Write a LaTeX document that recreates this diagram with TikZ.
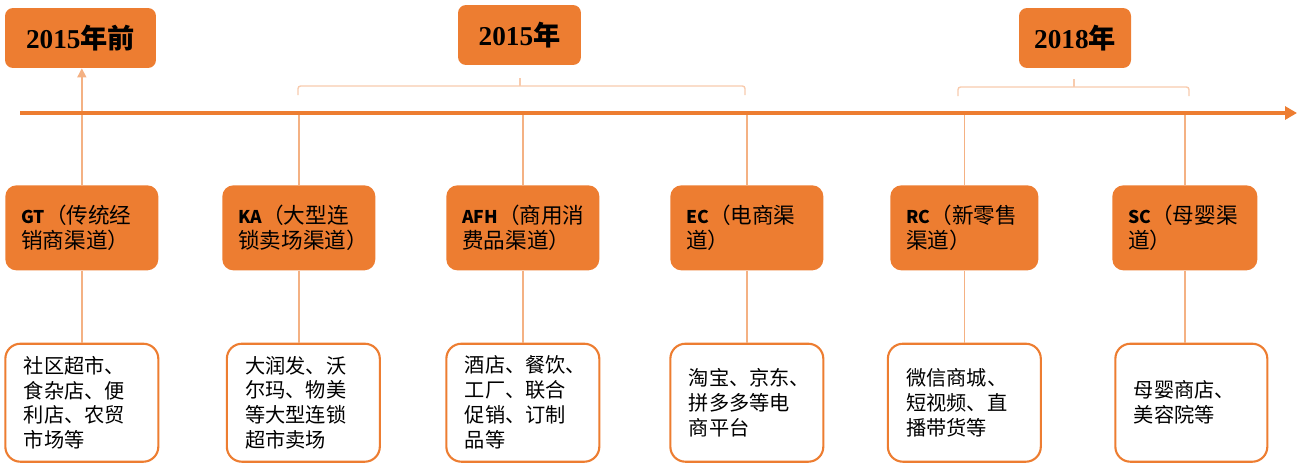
\documentclass[tikz,border=0pt]{standalone}
\usepackage{fontspec}
\setmainfont{Liberation Serif}
\newfontfamily\cjk{Noto Sans CJK SC}
\usepackage{tikz}
\usetikzlibrary{positioning, arrows.meta}
\definecolor{chanorange}{HTML}{ED7D31}
\definecolor{linkorange}{HTML}{F4B183}
\definecolor{braceorange}{HTML}{F8CBAD}
\newcommand{\abbr}[1]{{\fontsize{10}{12}\selectfont\bfseries #1}}

\begin{document}
\begin{tikzpicture}[
        x=0.02cm, y=-0.02cm,
        yearbox/.style  = {fill=chanorange, rounded corners=0.16cm, minimum height=1.2cm, inner sep=0pt, font=\fontsize{15.5}{18}\selectfont\bfseries},
        chan/.style     = {fill=chanorange, rounded corners=0.22cm, anchor=north west, minimum height=1.7cm, text width=2.42cm, inner xsep=0.32cm, align=left, font=\cjk\fontsize{12.3}{14.2}\selectfont},
        shop/.style     = {draw=chanorange, line width=1.2pt, fill=white, rounded corners=0.3cm, minimum height=2.36cm, text width=2.32cm, inner xsep=0.37cm, align=left, font=\cjk\fontsize{11.5}{14.2}\selectfont},
        link/.style     = {draw=linkorange, line width=0.8pt},
        brace/.style    = {draw=braceorange, line width=0.8pt, rounded corners=1.5pt},
        timeline/.style = {draw=chanorange, line width=0.08cm, -{Triangle[length=0.24cm, width=0.26cm]}},
    ]
        \useasboundingbox (0,0) rectangle (1301,463);

        % years
        \node[yearbox, minimum width=3.02cm] (y-pre) at (80.5,38) {2015{\cjk 年前}};
        \node[yearbox, minimum width=2.46cm] (y-15) at (519.5,35) {2015{\cjk 年}};
        \node[yearbox, minimum width=2.24cm] (y-18) at (1075,38) {2018{\cjk 年}};

        % channels
        \node[chan] (gt) at (5,185) {\abbr{GT}（传统经\\销商渠道）};
        \node[chan] (ka) at (222,185) {\abbr{KA}（大型连\\锁卖场渠道）};
        \node[chan] (afh) at (446,185) {\abbr{AFH}（商用消\\费品渠道）};
        \node[chan] (ec) at (670,185) {\abbr{EC}（电商渠\\道）};
        \node[chan, text width=2.32cm] (rc) at (890,185) {\abbr{RC}（新零售\\渠道）};
        \node[chan, text width=2.26cm] (sc) at (1112,185) {\abbr{SC}（母婴渠\\道）};

        % examples
        \node[shop, below=1.44cm of gt] (gt-shop) {社区超市、\\食杂店、便\\利店、农贸\\市场等};
        \node[shop, below=1.44cm of ka, xshift=0.09cm] (ka-shop) {大润发、沃\\尔玛、物美\\等大型连锁\\超市卖场};
        \node[shop, below=1.44cm of afh] (afh-shop) {酒店、餐饮、\\工厂、联合\\促销、订制\\品等};
        \node[shop, below=1.44cm of ec] (ec-shop) {淘宝、京东、\\拼多多等电\\商平台};
        \node[shop, below=1.44cm of rc] (rc-shop) {微信商城、\\短视频、直\\播带货等};
        \node[shop, below=1.44cm of sc, xshift=0.13cm, text width=2.30cm] (sc-shop) {母婴商店、\\美容院等};

        \coordinate (axis-l) at (20,113);
        \coordinate (axis-r) at (1297,113);

        \draw[link, -{Triangle[length=0.18cm, width=0.18cm]}] (gt.north) -- (gt.north |- y-pre.south);
        \foreach \c in {ka, afh, ec, rc, sc}
            \draw[link] (\c.north) -- (\c.north |- axis-l);
        \foreach \c in {gt, ka, afh, ec, rc, sc}
            \draw[link] (\c.south) -- (\c.south |- \c-shop.north);

        \draw[timeline] (axis-l) -- (axis-r);

        % brackets under the years
        \draw[brace] (298,95) |- (745,86) -- (745,95);
        \draw[brace] (520,86) -- (520,78);
        \draw[brace] (958,96) |- (1189,87) -- (1189,96);
        \draw[brace] (1074,87) -- (1074,79);
    \end{tikzpicture}
\end{document}
